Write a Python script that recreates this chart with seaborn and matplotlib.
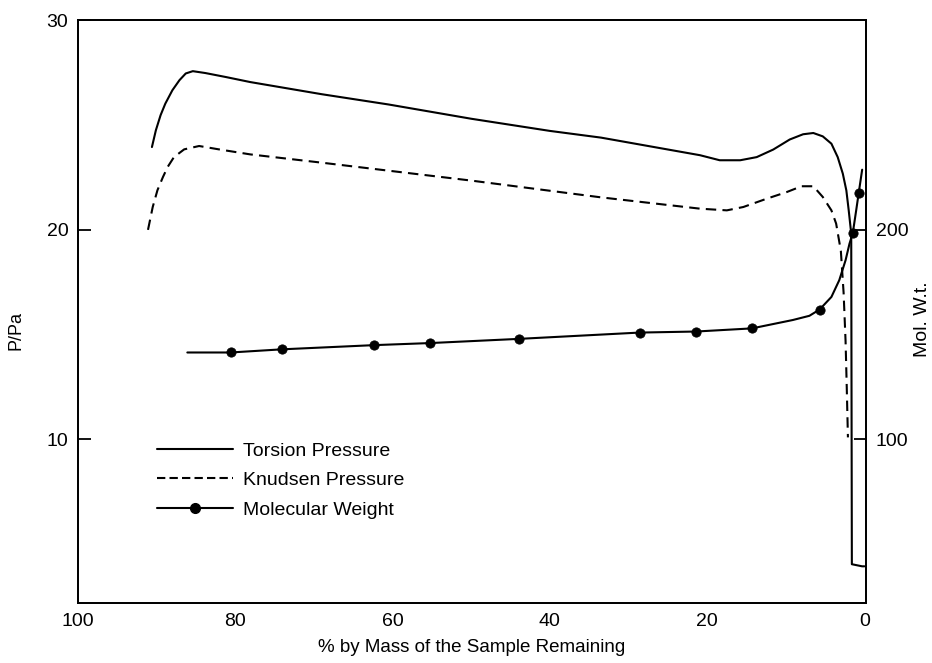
import matplotlib
matplotlib.use("Agg")
import matplotlib.pyplot as plt
import seaborn as sns
from matplotlib.lines import Line2D

# % by mass remaining (x), pressure in Pa (left axis)
torsion_x = [90.6, 90.1, 89.5, 88.9, 88.0, 87.1, 86.3, 85.4, 83.8, 81.2, 78.1, 69.0, 60.5,
             50.0, 40.0, 33.5, 20.9, 18.4, 15.8, 13.7, 11.6, 9.5, 7.8, 6.5, 5.3, 4.2, 3.4,
             2.75, 2.3, 2.0, 1.68, 1.6, 0.3, 0.0]
torsion_p = [23.95, 24.75, 25.47, 26.02, 26.66, 27.14, 27.46, 27.57, 27.48, 27.29, 27.05, 26.47, 25.98,
             25.3, 24.72, 24.4, 23.56, 23.32, 23.32, 23.47, 23.83, 24.31, 24.56, 24.62, 24.46, 24.11, 23.47,
             22.68, 21.88, 20.93, 19.82, 4.05, 3.95, 3.95]

knudsen_x = [91.1, 90.5, 89.9, 89.2, 88.6, 87.8, 86.5, 84.6, 82.1, 78.1, 68.9, 50.0, 33.5,
             20.9, 17.5, 15.4, 12.4, 9.9, 8.0, 6.5, 5.3, 4.2, 3.6, 3.0, 2.65, 2.4, 2.25, 2.1]
knudsen_p = [20.0, 21.09, 21.89, 22.52, 23.0, 23.47, 23.84, 24.0, 23.84, 23.6, 23.2, 22.35, 21.55,
             21.01, 20.93, 21.09, 21.49, 21.8, 22.08, 22.08, 21.57, 20.93, 20.3, 19.0, 17.0, 14.7, 12.5, 10.1]

# molecular weight (right axis): full curve and the measured points
molwt_x = [86.1, 80.6, 74.1, 62.4, 55.2, 43.9, 28.6, 21.4, 14.3, 9.1, 7.0, 5.7, 4.2, 3.2, 2.4,
           1.9, 1.48, 1.05, 0.72, 0.29]
molwt_y = [141.5, 141.5, 143, 145, 146, 148, 151, 151.5, 153, 157, 159, 162, 168, 176, 185.5,
           193.4, 198.5, 209.3, 217.8, 228.7]
dot_x = [80.6, 74.1, 62.4, 55.2, 43.9, 28.6, 21.4, 14.3, 5.7, 1.48, 0.72]
dot_y = [141.5, 143, 145, 146, 148, 151, 151.5, 153, 162, 198.5, 217.8]

sns.set_theme(style="white")
plt.rcParams["font.family"] = ["Liberation Sans", "DejaVu Sans"]
plt.rcParams["text.color"] = "black"

fig = plt.figure(figsize=(9.32, 6.63), dpi=100)
ax = fig.add_axes([0.0837, 0.0905, 0.8455, 0.879])
ax2 = ax.twinx()

lw = 1.5
sns.lineplot(x=torsion_x, y=torsion_p, ax=ax, sort=False, estimator=None, color="black", lw=lw)
sns.lineplot(x=knudsen_x, y=knudsen_p, ax=ax, sort=False, estimator=None, color="black", lw=lw,
             linestyle=(0, (5, 3)))
sns.lineplot(x=molwt_x, y=molwt_y, ax=ax2, sort=False, estimator=None, color="black", lw=lw)
sns.scatterplot(x=dot_x, y=dot_y, ax=ax2, color="black", s=45, edgecolor="black", zorder=5)

ax.set_xlim(100, -0.2)
ax.set_ylim(2.2, 30)
ax2.set_ylim(22, 300)

ax.set_xticks([100, 80, 60, 40, 20, 0])
ax.set_yticks([10, 20, 30])
ax2.set_yticks([100, 200])

for a in (ax, ax2):
    for s in a.spines.values():
        s.set_color("black")
        s.set_linewidth(1.3)
    a.tick_params(direction="in", length=9, width=1.3, labelsize=14, color="black",
                  labelcolor="black", pad=7)

ax.set_xlabel("% by Mass of the Sample Remaining", fontsize=13.5, color="black")
ax.set_ylabel("P/Pa", fontsize=13, color="black")
ax2.set_ylabel("Mol. W.t.", fontsize=14, color="black")
ax.xaxis.set_label_coords(0.5, -0.062)
ax.yaxis.set_label_coords(-0.068, 0.467)
ax2.yaxis.set_label_coords(1.061, 0.487)

handles = [
    Line2D([], [], color="black", lw=lw),
    Line2D([], [], color="black", lw=lw, linestyle=(0, (4, 2))),
    Line2D([], [], color="black", lw=lw, marker="o", markersize=7),
]
labels = ["Torsion Pressure", "Knudsen Pressure", "Molecular Weight"]
ax.legend(handles, labels, loc="upper left", bbox_to_anchor=(0.158, 0.348),
          bbox_transform=fig.transFigure, frameon=False, fontsize=14, labelcolor="black",
          handlelength=3.9, handletextpad=0.5, labelspacing=0.62, borderpad=0)

fig.savefig("out.png", dpi=100)
